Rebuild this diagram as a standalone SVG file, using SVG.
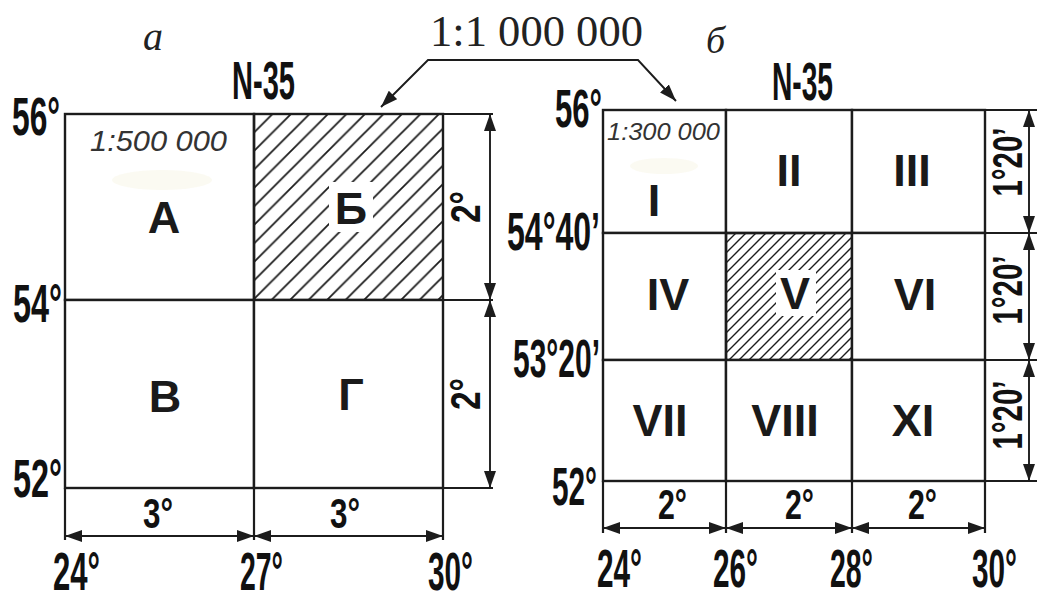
<svg xmlns="http://www.w3.org/2000/svg" width="1037" height="593" viewBox="0 0 1037 593">
<defs>
<style>
.cell{fill:#fff;stroke:#1c1c1c;stroke-width:2.4}
.ext{fill:none;stroke:#1c1c1c;stroke-width:2.2}
.dim{fill:none;stroke:#1c1c1c;stroke-width:1.9}
.coord{font-family:"Liberation Sans",Arial,sans-serif;font-weight:bold;font-size:54px;fill:#111}
.deg{font-family:"Liberation Sans",Arial,sans-serif;font-weight:bold;font-size:42px;fill:#111}
.lab{font-family:"Liberation Sans",Arial,sans-serif;font-weight:bold;font-size:45px;fill:#1a1a1a;text-anchor:middle}
.scale{font-family:"Liberation Sans",Arial,sans-serif;font-style:italic;fill:#333}
.serif{font-family:"Liberation Serif","Times New Roman",serif;fill:#222}
.blob{fill:#f8f7ea;opacity:0.6}
</style>
<marker id="ah" viewBox="0 0 17 12" refX="17" refY="6" markerWidth="17" markerHeight="12" markerUnits="userSpaceOnUse" orient="auto-start-reverse"><path d="M0,0 L17,6 L0,12 Z" fill="#1c1c1c"/></marker>
<pattern id="hatchB" patternUnits="userSpaceOnUse" x="254" y="114" width="18.5" height="18.5">
<path d="M0,18.5 L18.5,0 M-2,2 L2,-2 M16.5,20.5 L20.5,16.5" stroke="#1c1c1c" stroke-width="1.8"/>
</pattern>
<pattern id="hatchV" patternUnits="userSpaceOnUse" x="726" y="233" width="10" height="10">
<path d="M0,10 L10,0 M-2,2 L2,-2 M8,12 L12,8" stroke="#1c1c1c" stroke-width="1.4"/>
</pattern>
</defs>
<rect width="1037" height="593" fill="#fff"/>

<!-- titles -->
<g id="title-a"><text class="serif" x="143" y="50" font-size="40" font-style="italic">a</text></g>
<g id="title-b"><text class="serif" x="706" y="53" font-size="38" font-style="italic">б</text></g>
<g id="scale-1m"><text class="serif" x="430" y="46" font-size="44" textLength="213" lengthAdjust="spacingAndGlyphs">1:1 000 000</text></g>

<!-- panel a -->
<g id="panel-a">
<g id="cell-A"><rect class="cell" x="65" y="114" width="189" height="186"/>
<ellipse class="blob" cx="162" cy="180" rx="50" ry="10"/>
<text class="scale" x="90" y="151" font-size="30" textLength="137" lengthAdjust="spacingAndGlyphs">1:500 000</text>
<text class="lab" x="164" y="233">А</text></g>
<g id="cell-B"><rect class="cell" x="254" y="114" width="189" height="186" style="fill:url(#hatchB)"/>
<rect x="329" y="182" width="44" height="50" fill="#fff"/>
<text class="lab" x="351" y="224">Б</text></g>
<g id="cell-V"><rect class="cell" x="65" y="300" width="189" height="188"/>
<text class="lab" x="165" y="412">В</text></g>
<g id="cell-G"><rect class="cell" x="254" y="300" width="189" height="188"/>
<text class="lab" x="351" y="410">Г</text></g>
<text class="coord" x="232" y="99" textLength="63" lengthAdjust="spacingAndGlyphs">N-35</text>
<text class="coord" x="12" y="135" textLength="48" lengthAdjust="spacingAndGlyphs">56°</text>
<text class="coord" x="13" y="322" textLength="49" lengthAdjust="spacingAndGlyphs">54°</text>
<text class="coord" x="13" y="497" textLength="49" lengthAdjust="spacingAndGlyphs">52°</text>
<text class="coord" x="53" y="590" textLength="47" lengthAdjust="spacingAndGlyphs">24°</text>
<text class="coord" x="240" y="590" textLength="43" lengthAdjust="spacingAndGlyphs">27°</text>
<text class="coord" x="428" y="590" textLength="45" lengthAdjust="spacingAndGlyphs">30°</text>
<text class="deg" x="143" y="528" textLength="30" lengthAdjust="spacingAndGlyphs">3°</text>
<text class="deg" x="330" y="528" textLength="30" lengthAdjust="spacingAndGlyphs">3°</text>
<text class="deg" transform="translate(480,207) rotate(-90)" x="-16" y="0" textLength="32" lengthAdjust="spacingAndGlyphs">2°</text>
<text class="deg" transform="translate(480,394) rotate(-90)" x="-16" y="0" textLength="32" lengthAdjust="spacingAndGlyphs">2°</text>
</g>

<!-- panel b -->
<g id="panel-b">
<g id="cell-I"><rect class="cell" x="603" y="110" width="123" height="123"/>
<ellipse class="blob" cx="664" cy="166" rx="34" ry="8"/>
<text class="scale" x="607" y="140" font-size="24.5" textLength="113" lengthAdjust="spacingAndGlyphs">1:300 000</text>
<text class="lab" x="654" y="216">I</text></g>
<g id="cell-II"><rect class="cell" x="726" y="110" width="126" height="123"/><text class="lab" x="789" y="186">II</text></g>
<g id="cell-III"><rect class="cell" x="852" y="110" width="133" height="123"/><text class="lab" x="912" y="186">III</text></g>
<g id="cell-IV"><rect class="cell" x="603" y="233" width="123" height="127"/><text class="lab" x="668" y="310">IV</text></g>
<g id="cell-V5"><rect class="cell" x="726" y="233" width="126" height="127" style="fill:url(#hatchV)"/>
<rect x="776" y="270" width="40" height="46" fill="#fff"/>
<text class="lab" x="795" y="309">V</text></g>
<g id="cell-VI"><rect class="cell" x="852" y="233" width="133" height="127"/><text class="lab" x="915" y="310">VI</text></g>
<g id="cell-VII"><rect class="cell" x="603" y="360" width="123" height="121"/><text class="lab" x="660" y="436">VII</text></g>
<g id="cell-VIII"><rect class="cell" x="726" y="360" width="126" height="121"/><text class="lab" x="785" y="436">VIII</text></g>
<g id="cell-XI"><rect class="cell" x="852" y="360" width="133" height="121"/><text class="lab" x="913" y="436">XI</text></g>
<text class="coord" x="772" y="100" textLength="61" lengthAdjust="spacingAndGlyphs">N-35</text>
<text class="coord" x="555" y="127" textLength="47" lengthAdjust="spacingAndGlyphs">56°</text>
<text class="coord" x="507" y="250" textLength="93" lengthAdjust="spacingAndGlyphs">54°40’</text>
<text class="coord" x="513" y="377" textLength="87" lengthAdjust="spacingAndGlyphs">53°20’</text>
<text class="coord" x="552" y="505" textLength="45" lengthAdjust="spacingAndGlyphs">52°</text>
<text class="coord" x="597" y="587" textLength="45" lengthAdjust="spacingAndGlyphs">24°</text>
<text class="coord" x="713" y="587" textLength="45" lengthAdjust="spacingAndGlyphs">26°</text>
<text class="coord" x="830" y="587" textLength="43" lengthAdjust="spacingAndGlyphs">28°</text>
<text class="coord" x="972" y="587" textLength="45" lengthAdjust="spacingAndGlyphs">30°</text>
<text class="deg" x="658" y="519" textLength="29" lengthAdjust="spacingAndGlyphs">2°</text>
<text class="deg" x="785" y="519" textLength="29" lengthAdjust="spacingAndGlyphs">2°</text>
<text class="deg" x="908" y="519" textLength="29" lengthAdjust="spacingAndGlyphs">2°</text>
<text class="deg" transform="translate(1022,162) rotate(-90)" x="-34.5" y="0" textLength="69" lengthAdjust="spacingAndGlyphs">1°20’</text>
<text class="deg" transform="translate(1022,290) rotate(-90)" x="-34.5" y="0" textLength="69" lengthAdjust="spacingAndGlyphs">1°20’</text>
<text class="deg" transform="translate(1022,415) rotate(-90)" x="-34.5" y="0" textLength="69" lengthAdjust="spacingAndGlyphs">1°20’</text>
</g>

<!-- connectors: extension lines, dimension arrows, leader -->
<g id="connectors">
<path class="ext" d="M443,114 H493 M443,300 H493 M443,488 H493 M65,488 V540 M254,488 V540 M443,488 V540"/>
<path class="ext" d="M985,110 H1037 M985,233 H1037 M985,360 H1037 M985,481 H1037 M603,481 V533 M726,481 V533 M852,481 V533 M985,481 V533"/>
<path class="dim" d="M490,114 V300" marker-start="url(#ah)" marker-end="url(#ah)"/>
<path class="dim" d="M490,300 V488" marker-start="url(#ah)" marker-end="url(#ah)"/>
<path class="dim" d="M65,536 H254" marker-start="url(#ah)" marker-end="url(#ah)"/>
<path class="dim" d="M254,536 H443" marker-start="url(#ah)" marker-end="url(#ah)"/>
<path class="dim" d="M1029,110 V233" marker-start="url(#ah)" marker-end="url(#ah)"/>
<path class="dim" d="M1029,233 V360" marker-start="url(#ah)" marker-end="url(#ah)"/>
<path class="dim" d="M1029,360 V481" marker-start="url(#ah)" marker-end="url(#ah)"/>
<path class="dim" d="M603,528 H726" marker-start="url(#ah)" marker-end="url(#ah)"/>
<path class="dim" d="M726,528 H852" marker-start="url(#ah)" marker-end="url(#ah)"/>
<path class="dim" d="M852,528 H985" marker-start="url(#ah)" marker-end="url(#ah)"/>
<path class="dim" d="M381,107 L428,60 H638 L676,101" stroke-width="2.2" marker-start="url(#ah)" marker-end="url(#ah)"/>
</g>
</svg>
